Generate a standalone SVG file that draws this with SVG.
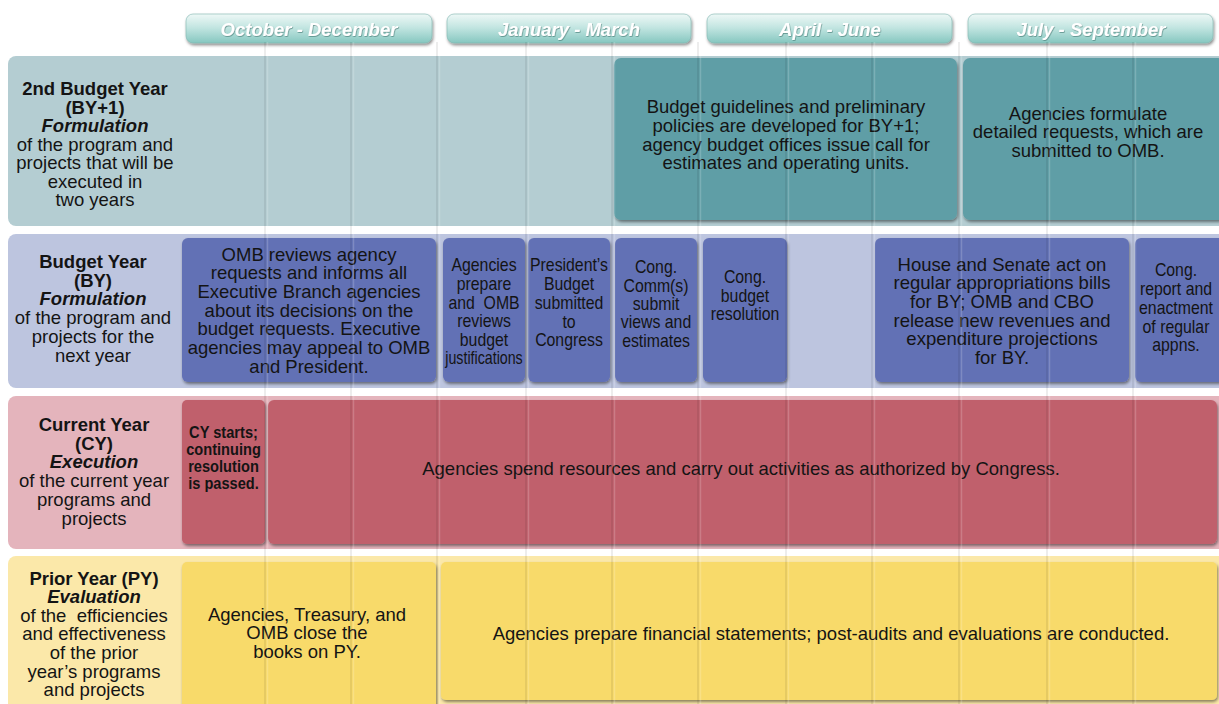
<svg xmlns="http://www.w3.org/2000/svg" width="1219" height="704" viewBox="0 0 1219 704">
<defs>
<linearGradient id="tabGrad" x1="0" y1="0" x2="0" y2="1">
<stop offset="0" stop-color="#eef8f6"/>
<stop offset="0.45" stop-color="#c4e6e2"/>
<stop offset="1" stop-color="#86c7c0"/>
</linearGradient>
<filter id="shadow" x="-10%" y="-10%" width="130%" height="130%">
<feDropShadow dx="1" dy="2" stdDeviation="1.8" flood-color="#000" flood-opacity="0.45"/>
</filter>
<filter id="tshadow" x="-5%" y="-20%" width="110%" height="150%">
<feDropShadow dx="0.6" dy="0.8" stdDeviation="0.6" flood-color="#3a6f6a" flood-opacity="0.7"/>
</filter>
</defs>
<style>
text { font-family: "Liberation Sans", Arial, sans-serif; fill: #141414; text-anchor: middle; }
.lab { font-size: 18.5px; }
.b { font-weight: bold; }
.bi { font-weight: bold; font-style: italic; }
.box { font-size: 18.5px; }
.nar { font-size: 18px; }
.cy { font-size: 17px; font-weight: bold; }
.tab { fill: url(#tabGrad); stroke: #7fb5b0; stroke-width: 0.6; filter: url(#shadow); }
.tabt { font-size: 18.5px; font-weight: bold; font-style: italic; fill: #ffffff; filter: url(#tshadow); }
.bg1 { fill: #b4cdd2; }
.bg2 { fill: #bdc5df; }
.bg3 { fill: #e4b4bc; }
.bg4 { fill: #fbe8a9; }
.k1 { fill: #5f9ea6; filter: url(#shadow); }
.k2 { fill: #6271b5; filter: url(#shadow); }
.k3 { fill: #c0606c; filter: url(#shadow); }
.k4 { fill: #f8da6b; filter: url(#shadow); }
.grid line { stroke: #000; stroke-opacity: 0.07; stroke-width: 2; }
.gridh line { stroke: #fff; stroke-opacity: 0.18; stroke-width: 1.5; }
</style>
<rect x="0" y="0" width="1219" height="704" fill="#ffffff"/>

<!-- column headers -->
<g id="header-oct-dec">
<rect class="tab" x="186" y="14" width="246" height="29" rx="7"/>
<text class="tabt" x="309" y="35.5">October - December</text>
</g>
<g id="header-jan-mar">
<rect class="tab" x="447" y="14" width="244" height="29" rx="7"/>
<text class="tabt" x="569" y="35.5">January - March</text>
</g>
<g id="header-apr-jun">
<rect class="tab" x="707" y="14" width="245" height="29" rx="7"/>
<text class="tabt" x="830" y="35.5">April - June</text>
</g>
<g id="header-jul-sep">
<rect class="tab" x="968" y="14" width="245" height="29" rx="7"/>
<text class="tabt" x="1091" y="35.5">July - September</text>
</g>

<!-- row backgrounds / labels -->
<g id="row-by1-label">
<rect class="bg1" x="8" y="56" width="1220" height="170" rx="8"/>
<text class="lab b" x="95" y="95">2nd Budget Year</text>
<text class="lab b" x="95" y="113.5">(BY+1)</text>
<text class="lab bi" x="95" y="132">Formulation</text>
<text class="lab" x="95" y="150.5">of the program and</text>
<text class="lab" x="95" y="169">projects that will be</text>
<text class="lab" x="95" y="187.5">executed in</text>
<text class="lab" x="95" y="206">two years</text>
</g>
<g id="row-by-label">
<rect class="bg2" x="8" y="234" width="1220" height="154" rx="8"/>
<text class="lab b" x="93" y="268">Budget Year</text>
<text class="lab b" x="93" y="286.7">(BY)</text>
<text class="lab bi" x="93" y="305.4">Formulation</text>
<text class="lab" x="93" y="324.1">of the program and</text>
<text class="lab" x="93" y="342.8">projects for the</text>
<text class="lab" x="93" y="361.5">next year</text>
</g>
<g id="row-cy-label">
<rect class="bg3" x="8" y="396" width="1220" height="153" rx="8"/>
<text class="lab b" x="94" y="431">Current Year</text>
<text class="lab b" x="94" y="449.7">(CY)</text>
<text class="lab bi" x="94" y="468.4">Execution</text>
<text class="lab" x="94" y="487.1">of the current year</text>
<text class="lab" x="94" y="505.8">programs and</text>
<text class="lab" x="94" y="524.5">projects</text>
</g>
<g id="row-py-label">
<rect class="bg4" x="8" y="556" width="1220" height="160" rx="8"/>
<text class="lab b" x="94" y="584.5">Prior Year (PY)</text>
<text class="lab bi" x="94" y="603.1">Evaluation</text>
<text class="lab" x="94" y="621.7" style="white-space:pre">of the  efficiencies</text>
<text class="lab" x="94" y="640.3">and effectiveness</text>
<text class="lab" x="94" y="658.9">of the prior</text>
<text class="lab" x="94" y="677.5">year’s programs</text>
<text class="lab" x="94" y="696.1">and projects</text>
</g>

<!-- BY+1 boxes -->
<g id="by1-guidelines">
<rect class="k1" x="614" y="58" width="343" height="162" rx="7"/>
<text class="box" x="786" y="113">Budget guidelines and preliminary</text>
<text class="box" x="786" y="131.8">policies are developed for BY+1;</text>
<text class="box" x="786" y="150.6">agency budget offices issue call for</text>
<text class="box" x="786" y="169.4">estimates and operating units.</text>
</g>
<g id="by1-formulate">
<rect class="k1" x="963" y="58" width="262" height="162" rx="7"/>
<text class="box" x="1088" y="119.5">Agencies formulate</text>
<text class="box" x="1088" y="138.3">detailed requests, which are</text>
<text class="box" x="1088" y="157.1">submitted to OMB.</text>
</g>

<!-- BY boxes -->
<g id="by-omb-reviews">
<rect class="k2" x="182" y="238" width="254" height="144" rx="6"/>
<text class="box" x="309" y="260.5">OMB reviews agency</text>
<text class="box" x="309" y="279.2">requests and informs all</text>
<text class="box" x="309" y="297.9">Executive Branch agencies</text>
<text class="box" x="309" y="316.6">about its decisions on the</text>
<text class="box" x="309" y="335.3">budget requests. Executive</text>
<text class="box" x="309" y="354">agencies may appeal to OMB</text>
<text class="box" x="309" y="372.7">and President.</text>
</g>
<g id="by-agencies-prepare">
<rect class="k2" x="443" y="238" width="82" height="144" rx="6"/>
<g transform="translate(484,0) scale(0.88,1)">
<text class="nar" x="0" y="271.5">Agencies</text>
<text class="nar" x="0" y="290.1">prepare</text>
<text class="nar" x="0" y="308.7" style="white-space:pre">and  OMB</text>
<text class="nar" x="0" y="327.3">reviews</text>
<text class="nar" x="0" y="345.9">budget</text>
<text class="nar" x="0" y="364.5" textLength="88" lengthAdjust="spacingAndGlyphs">justifications</text>
</g>
</g>
<g id="by-presidents-budget">
<rect class="k2" x="528" y="238" width="82" height="144" rx="6"/>
<g transform="translate(569,0) scale(0.88,1)">
<text class="nar" x="0" y="271.5">President’s</text>
<text class="nar" x="0" y="290.2">Budget</text>
<text class="nar" x="0" y="308.9">submitted</text>
<text class="nar" x="0" y="327.6">to</text>
<text class="nar" x="0" y="346.3">Congress</text>
</g>
</g>
<g id="by-cong-comms">
<rect class="k2" x="615" y="238" width="82" height="144" rx="6"/>
<g transform="translate(656,0) scale(0.88,1)">
<text class="nar" x="0" y="273.5">Cong.</text>
<text class="nar" x="0" y="291.8">Comm(s)</text>
<text class="nar" x="0" y="310.1">submit</text>
<text class="nar" x="0" y="328.4">views and</text>
<text class="nar" x="0" y="346.7">estimates</text>
</g>
</g>
<g id="by-cong-budget-resolution">
<rect class="k2" x="703" y="238" width="84" height="144" rx="6"/>
<g transform="translate(745,0) scale(0.88,1)">
<text class="nar" x="0" y="283.5">Cong.</text>
<text class="nar" x="0" y="302">budget</text>
<text class="nar" x="0" y="320.5">resolution</text>
</g>
</g>
<g id="by-house-senate">
<rect class="k2" x="875" y="238" width="254" height="144" rx="6"/>
<text class="box" x="1002" y="270.5">House and Senate act on</text>
<text class="box" x="1002" y="289.2">regular appropriations bills</text>
<text class="box" x="1002" y="307.9">for BY; OMB and CBO</text>
<text class="box" x="1002" y="326.6">release new revenues and</text>
<text class="box" x="1002" y="345.3">expenditure projections</text>
<text class="box" x="1002" y="364">for BY.</text>
</g>
<g id="by-cong-report">
<rect class="k2" x="1135" y="238" width="90" height="144" rx="6"/>
<g transform="translate(1176,0) scale(0.88,1)">
<text class="nar" x="0" y="276.5">Cong.</text>
<text class="nar" x="0" y="295.2">report and</text>
<text class="nar" x="0" y="313.9">enactment</text>
<text class="nar" x="0" y="332.6">of regular</text>
<text class="nar" x="0" y="351.3">appns.</text>
</g>
</g>

<!-- CY boxes -->
<g id="cy-starts">
<rect class="k3" x="182" y="400" width="83" height="144" rx="5"/>
<g transform="translate(223.5,0) scale(0.86,1)">
<text class="cy" x="0" y="438">CY starts;</text>
<text class="cy" x="0" y="455">continuing</text>
<text class="cy" x="0" y="472">resolution</text>
<text class="cy" x="0" y="489">is passed.</text>
</g>
</g>
<g id="cy-spend">
<rect class="k3" x="268" y="400" width="949" height="144" rx="6"/>
<text class="box" x="741" y="474.5">Agencies spend resources and carry out activities as authorized by Congress.</text>
</g>

<!-- PY boxes -->
<g id="py-close-books">
<rect class="k4" x="182" y="562" width="254" height="150" rx="5"/>
<text class="box" x="307" y="620.5">Agencies, Treasury, and</text>
<text class="box" x="307" y="639">OMB close the</text>
<text class="box" x="307" y="657.5">books on PY.</text>
</g>
<g id="py-statements">
<rect class="k4" x="441" y="562" width="776" height="138" rx="5"/>
<text class="box" x="831" y="639.5">Agencies prepare financial statements; post-audits and evaluations are conducted.</text>
</g>

<!-- month grid lines -->
<g class="grid">
<line x1="265" y1="42" x2="265" y2="704"/>
<line x1="351" y1="42" x2="351" y2="704"/>
<line x1="437" y1="42" x2="437" y2="704"/>
<line x1="526" y1="42" x2="526" y2="704"/>
<line x1="612" y1="42" x2="612" y2="704"/>
<line x1="698" y1="42" x2="698" y2="704"/>
<line x1="786" y1="42" x2="786" y2="704"/>
<line x1="872" y1="42" x2="872" y2="704"/>
<line x1="959" y1="42" x2="959" y2="704"/>
<line x1="1047" y1="42" x2="1047" y2="704"/>
<line x1="1133" y1="42" x2="1133" y2="704"/>
</g>
<g class="gridh">
<line x1="267.5" y1="42" x2="267.5" y2="704"/>
<line x1="353.5" y1="42" x2="353.5" y2="704"/>
<line x1="439.5" y1="42" x2="439.5" y2="704"/>
<line x1="528.5" y1="42" x2="528.5" y2="704"/>
<line x1="614.5" y1="42" x2="614.5" y2="704"/>
<line x1="700.5" y1="42" x2="700.5" y2="704"/>
<line x1="788.5" y1="42" x2="788.5" y2="704"/>
<line x1="874.5" y1="42" x2="874.5" y2="704"/>
<line x1="961.5" y1="42" x2="961.5" y2="704"/>
<line x1="1049.5" y1="42" x2="1049.5" y2="704"/>
<line x1="1135.5" y1="42" x2="1135.5" y2="704"/>
</g>
<g id="connectors"/>
</svg>
